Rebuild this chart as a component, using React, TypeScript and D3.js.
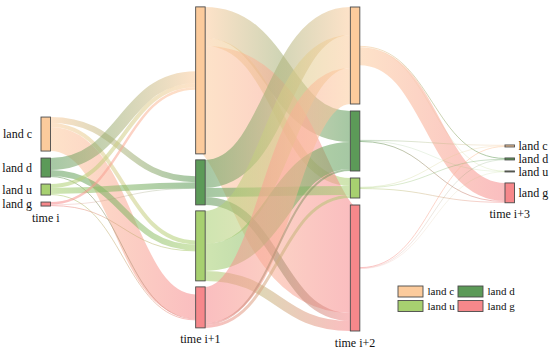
import React from 'react';
import * as d3 from 'd3';

// ---- data ----
const CLASSES = ['land c', 'land d', 'land u', 'land g'];
const COLORS = ['#FCCB9C', '#5C9A58', '#A7D070', '#F6888B'];
const TIMES = ['time i', 'time i+1', 'time i+2', 'time i+3'];

// transition values: rows = source class (c,d,u,g), cols = target class (c,d,u,g)
const T01 = [
  [0, 6, 4, 24],
  [12, 0, 6, 1],
  [4, 6, 0, 1],
  [2.5, 0.5, 1, 0],
];
const T12 = [
  [0, 31, 8, 108],
  [28, 0, 9, 8],
  [33, 27, 0, 10],
  [36, 2, 3, 0],
];
const T23 = [
  [0, 1.0, 0.4, 18],
  [0.6, 0, 0.3, 1.0],
  [0.5, 0.6, 0, 0.8],
  [0.9, 0.4, 0.3, 0],
];

// ---- layout config ----
const W = 550;
const H = 352;
const EXTENT_TOP = 7;
const EXTENT_BOTTOM = 331;
const NODE_W = 9.5;
const COL_PAD = [7, 6, 7, 11];
const COL_CENTER = [0.477, 0.495, 0.5, 0.515];
const FONT = "'Liberation Serif', 'Times New Roman', serif";

type NodeT = { col: number; cls: number; value: number; inSum: number; outSum: number; x0: number; x1: number; y0: number; y1: number };
type LinkT = { k: number; s: number; t: number; v: number; sy: number; ty: number; w: number };

function layout() {
  const mats = [T01, T12, T23];
  const ncol = TIMES.length;
  const n = CLASSES.length;
  const x = d3.scaleLinear().domain([0, ncol - 1]).range([41, 505]);
  const cols: NodeT[][] = [];
  for (let c = 0; c < ncol; c++) {
    const arr: NodeT[] = [];
    for (let i = 0; i < n; i++) {
      const inSum = c > 0 ? d3.sum(mats[c - 1], (row) => row[i]) : 0;
      const outSum = c < ncol - 1 ? d3.sum(mats[c][i]) : 0;
      arr.push({ col: c, cls: i, value: Math.max(inSum, outSum), inSum, outSum, x0: x(c), x1: x(c) + NODE_W, y0: 0, y1: 0 });
    }
    cols.push(arr);
  }
  const Hs = EXTENT_BOTTOM - EXTENT_TOP;
  const ky = d3.min(cols, (arr, c) => (Hs - (arr.length - 1) * COL_PAD[c]) / d3.sum(arr, (d) => d.value)) as number;
  cols.forEach((arr, c) => {
    const total = d3.sum(arr, (d) => d.value) * ky + (arr.length - 1) * COL_PAD[c];
    let y = EXTENT_TOP + COL_CENTER[c] * Hs - total / 2;
    arr.forEach((d) => {
      d.y0 = y;
      d.y1 = y + d.value * ky;
      y = d.y1 + COL_PAD[c];
    });
  });
  const links: LinkT[] = [];
  mats.forEach((m, k) => {
    const srcOff = cols[k].map((d) => d.y0 + (d.y1 - d.y0 - d.outSum * ky) / 2);
    const tgtOff = cols[k + 1].map((d) => d.y0 + (d.y1 - d.y0 - d.inSum * ky) / 2);
    for (let s = 0; s < n; s++) {
      for (let t = 0; t < n; t++) {
        const v = m[s][t];
        if (!v) continue;
        const w = v * ky;
        links.push({ k, s, t, v, w, sy: 0, ty: 0 });
      }
    }
    for (let s = 0; s < n; s++) {
      links.filter((l) => l.k === k && l.s === s).sort((a, b) => a.t - b.t).forEach((l) => {
        l.sy = srcOff[s] + l.w / 2;
        srcOff[s] += l.w;
      });
    }
    for (let t = 0; t < n; t++) {
      links.filter((l) => l.k === k && l.t === t).sort((a, b) => a.s - b.s).forEach((l) => {
        l.ty = tgtOff[t] + l.w / 2;
        tgtOff[t] += l.w;
      });
    }
  });
  return { cols, links };
}

export default function App() {
  const { cols, links } = layout();
  const linkGen = d3.linkHorizontal<any, [number, number]>().source((d: any) => d.source).target((d: any) => d.target);
  const last = cols.length - 1;
  const legendItems = CLASSES.map((c, i) => ({ name: c, color: COLORS[i], col: i % 2, row: Math.floor(i / 2) }));
  const lx = d3.scaleOrdinal<number, number>().domain([0, 1]).range([398, 458]);
  const ly = d3.scaleOrdinal<number, number>().domain([0, 1]).range([286, 300.5]);
  return (
    <svg width={W} height={H} style={{ position: 'absolute', left: 0, top: 0, background: '#fff' }} fontFamily={FONT}>
      <defs>
        {links.map((l, i) => (
          <linearGradient key={i} id={`g${i}`} gradientUnits="userSpaceOnUse" x1={cols[l.k][l.s].x1} x2={cols[l.k + 1][l.t].x0} y1={0} y2={0}>
            <stop offset="0%" stopColor={COLORS[l.s]} />
            <stop offset="100%" stopColor={COLORS[l.t]} />
          </linearGradient>
        ))}
      </defs>
      <g fill="none">
        {links.map((l, i) => (
          <path
            key={i}
            d={linkGen({ source: [cols[l.k][l.s].x1, l.sy], target: [cols[l.k + 1][l.t].x0, l.ty] } as any) as string}
            stroke={`url(#g${i})`}
            strokeWidth={Math.max(l.w, 0.3)}
            strokeOpacity={0.55}
          />
        ))}
      </g>
      <g>
        {cols.flat().map((d, i) => (
          <rect key={i} x={d.x0} y={d.y0} width={NODE_W} height={Math.max(d.y1 - d.y0, 0.5)} fill={COLORS[d.cls]} stroke="#4a4a4a" strokeWidth={0.9} />
        ))}
      </g>
      <g fontSize={12} fill="#111">
        {cols[0].map((d, i) => (
          <text key={'l' + i} x={d.x0 - 9} y={(d.y0 + d.y1) / 2} dy="0.35em" textAnchor="end">{CLASSES[d.cls]}</text>
        ))}
        {cols[last].map((d, i) => (
          <text key={'r' + i} x={d.x1 + 4} y={(d.y0 + d.y1) / 2} dy="0.35em" textAnchor="start">{CLASSES[d.cls]}</text>
        ))}
        {cols.map((arr, c) => (
          <text key={'t' + c} x={(arr[0].x0 + arr[0].x1) / 2} y={arr[arr.length - 1].y1 + 15.5} textAnchor="middle">{TIMES[c]}</text>
        ))}
      </g>
      <g fontSize={11} fill="#111">
        {legendItems.map((it, i) => (
          <g key={i} transform={`translate(${lx(it.col)},${ly(it.row)})`}>
            <rect width={25} height={11} fill={it.color} stroke="#4a4a4a" strokeWidth={0.9} />
            <text x={29.5} y={5.5} dy="0.35em">{it.name}</text>
          </g>
        ))}
      </g>
    </svg>
  );
}
